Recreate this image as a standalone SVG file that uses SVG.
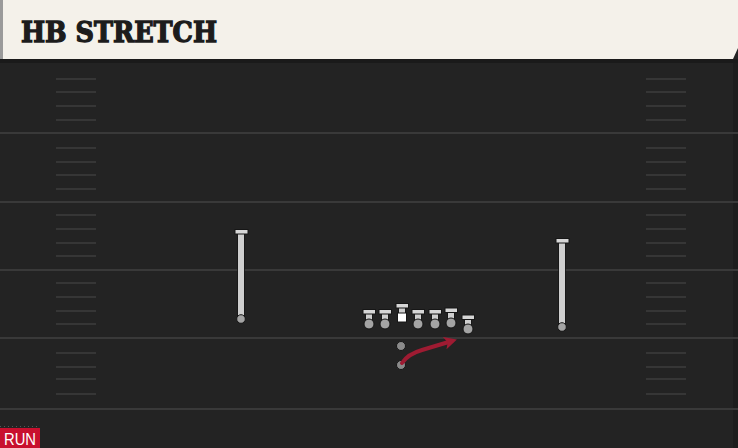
<svg xmlns="http://www.w3.org/2000/svg" width="738" height="448" viewBox="0 0 738 448">
<style>
.yard{stroke:#393939;stroke-width:2}
.hash{stroke:#363636;stroke-width:2}
.stem{stroke:#161616;stroke-width:7.5}
.stemin{stroke:#cfcfcf;stroke-width:6}
.bar{fill:#d6d6d6;stroke:#161616;stroke-width:1}
.dot{fill:#a4a4a4;stroke:#161616;stroke-width:1}
.title{font-family:"DejaVu Serif",serif;font-weight:bold;font-size:27px;fill:#1c1c1c;stroke:#1c1c1c;stroke-width:1.3}
.tag{font-family:"Liberation Sans","Roboto",sans-serif;font-size:17px;fill:#ffffff}
</style>
<defs>
<marker id="ah" viewBox="0 0 10 10" refX="6" refY="5" markerWidth="3.2" markerHeight="3.2" orient="auto" markerUnits="strokeWidth">
<path d="M0,0 L10,5 L0,10 L2.5,5 Z" fill="#9e1b32"/>
</marker>
</defs>
<rect x="0" y="0" width="738" height="448" fill="#232323"/>
<g id="header">
<path d="M0,0 H738 V48 L733,59 H0 Z" fill="#f4f1ea"/>
<rect x="0" y="0" width="3" height="59" fill="#9a9a9a"/>
<rect x="0" y="59" width="738" height="4" fill="#1a1a1a"/>
<text class="title" x="21" y="42" textLength="196" lengthAdjust="spacingAndGlyphs">HB STRETCH</text>
</g>
<g id="field">
<rect x="733" y="63" width="5" height="385" fill="#1d1d1d"/>
<line class="yard" x1="0" y1="133" x2="738" y2="133"/>
<line class="yard" x1="0" y1="202" x2="738" y2="202"/>
<line class="yard" x1="0" y1="270" x2="738" y2="270"/>
<line class="yard" x1="0" y1="338" x2="738" y2="338"/>
<line class="yard" x1="0" y1="409" x2="738" y2="409"/>
<g class="hash">
<line x1="56" y1="79" x2="96" y2="79"/><line x1="56" y1="92" x2="96" y2="92"/><line x1="56" y1="106" x2="96" y2="106"/><line x1="56" y1="120" x2="96" y2="120"/>
<line x1="56" y1="148" x2="96" y2="148"/><line x1="56" y1="162" x2="96" y2="162"/><line x1="56" y1="175" x2="96" y2="175"/><line x1="56" y1="189" x2="96" y2="189"/>
<line x1="56" y1="215" x2="96" y2="215"/><line x1="56" y1="229" x2="96" y2="229"/><line x1="56" y1="243" x2="96" y2="243"/><line x1="56" y1="256" x2="96" y2="256"/>
<line x1="56" y1="283" x2="96" y2="283"/><line x1="56" y1="297" x2="96" y2="297"/><line x1="56" y1="311" x2="96" y2="311"/><line x1="56" y1="324" x2="96" y2="324"/>
<line x1="56" y1="353" x2="96" y2="353"/><line x1="56" y1="367" x2="96" y2="367"/><line x1="56" y1="379" x2="96" y2="379"/><line x1="56" y1="394" x2="96" y2="394"/>
<line x1="646" y1="79" x2="686" y2="79"/><line x1="646" y1="92" x2="686" y2="92"/><line x1="646" y1="106" x2="686" y2="106"/><line x1="646" y1="120" x2="686" y2="120"/>
<line x1="646" y1="148" x2="686" y2="148"/><line x1="646" y1="162" x2="686" y2="162"/><line x1="646" y1="175" x2="686" y2="175"/><line x1="646" y1="189" x2="686" y2="189"/>
<line x1="646" y1="215" x2="686" y2="215"/><line x1="646" y1="229" x2="686" y2="229"/><line x1="646" y1="243" x2="686" y2="243"/><line x1="646" y1="256" x2="686" y2="256"/>
<line x1="646" y1="283" x2="686" y2="283"/><line x1="646" y1="297" x2="686" y2="297"/><line x1="646" y1="311" x2="686" y2="311"/><line x1="646" y1="324" x2="686" y2="324"/>
<line x1="646" y1="353" x2="686" y2="353"/><line x1="646" y1="367" x2="686" y2="367"/><line x1="646" y1="379" x2="686" y2="379"/><line x1="646" y1="394" x2="686" y2="394"/>
</g>
</g>
<g id="qb"><circle class="dot" cx="401" cy="346" r="4.5" style="fill:#8a8a8a"/></g>
<g id="hb"><circle class="dot" cx="401" cy="365" r="4.5" style="fill:#8a8a8a"/></g>
<g id="connectors">
<path d="M402,363 Q408,354 422,350 L452,341" fill="none" stroke="#9e1b32" stroke-width="4" stroke-linecap="round" marker-end="url(#ah)"/>
</g>
<g id="wr-left">
<line class="stem" x1="241" y1="233" x2="241" y2="319"/>
<line class="stemin" x1="241" y1="233" x2="241" y2="319"/>
<rect class="bar" x="235" y="229.5" width="13" height="4.5"/>
<circle class="dot" cx="241" cy="319" r="4.3"/>
</g>
<g id="wr-right">
<line class="stem" x1="562" y1="242" x2="562" y2="327"/>
<line class="stemin" x1="562" y1="242" x2="562" y2="327"/>
<rect class="bar" x="556" y="238.5" width="13" height="4.5"/>
<circle class="dot" cx="562" cy="327" r="4.3"/>
</g>
<g id="lt">
<line class="stem" x1="369" y1="312" x2="369" y2="322"/><line class="stemin" x1="369" y1="312" x2="369" y2="323"/>
<rect class="bar" x="363" y="309.5" width="12.5" height="4.5"/><circle class="dot" cx="369" cy="324" r="5"/>
</g>
<g id="lg">
<line class="stem" x1="385" y1="312" x2="385" y2="322"/><line class="stemin" x1="385" y1="312" x2="385" y2="323"/>
<rect class="bar" x="379" y="309.5" width="12.5" height="4.5"/><circle class="dot" cx="385" cy="324" r="5"/>
</g>
<g id="center">
<line class="stem" x1="402" y1="306" x2="402" y2="314"/><line class="stemin" x1="402" y1="306" x2="402" y2="314"/>
<rect class="bar" x="396" y="303.5" width="12.5" height="4.5"/>
<rect x="397.5" y="313" width="9" height="9" fill="#ffffff" stroke="#161616" stroke-width="1"/>
</g>
<g id="rg">
<line class="stem" x1="418" y1="312" x2="418" y2="322"/><line class="stemin" x1="418" y1="312" x2="418" y2="323"/>
<rect class="bar" x="412" y="309.5" width="12.5" height="4.5"/><circle class="dot" cx="418" cy="324" r="5"/>
</g>
<g id="rt">
<line class="stem" x1="435" y1="312" x2="435" y2="322"/><line class="stemin" x1="435" y1="312" x2="435" y2="323"/>
<rect class="bar" x="429" y="309.5" width="12.5" height="4.5"/><circle class="dot" cx="435" cy="324" r="5"/>
</g>
<g id="te1">
<line class="stem" x1="451" y1="311" x2="451" y2="321"/><line class="stemin" x1="451" y1="311" x2="451" y2="322"/>
<rect class="bar" x="445" y="308" width="12.5" height="4.5"/><circle class="dot" cx="451" cy="323" r="5"/>
</g>
<g id="te2">
<line class="stem" x1="468" y1="318" x2="468" y2="327"/><line class="stemin" x1="468" y1="318" x2="468" y2="328"/>
<rect class="bar" x="462" y="315" width="12.5" height="4.5"/><circle class="dot" cx="468" cy="329" r="5"/>
</g>
<g id="run-tag">
<line x1="0" y1="426.5" x2="40" y2="426.5" stroke="#555" stroke-width="1" stroke-dasharray="1 3"/>
<rect x="0" y="428" width="40" height="20" fill="#c8102e"/>
<text class="tag" x="4" y="445" textLength="32" lengthAdjust="spacingAndGlyphs">RUN</text>
</g>
</svg>
